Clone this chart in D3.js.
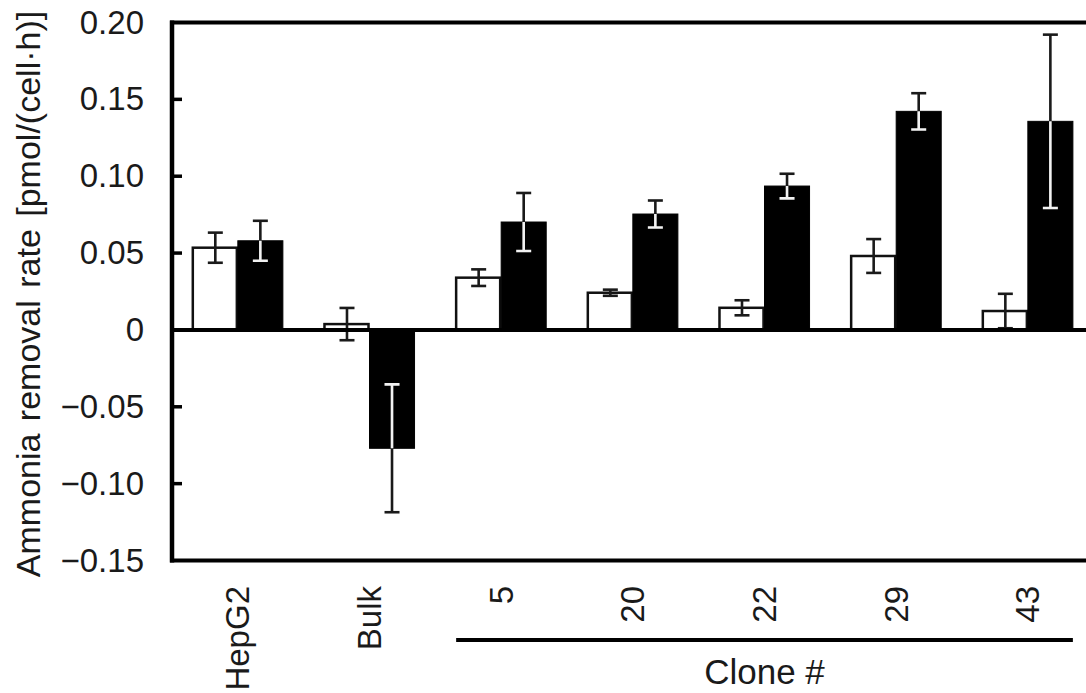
<!DOCTYPE html>
<html>
<head>
<meta charset="utf-8">
<script src="https://cdn.jsdelivr.net/npm/d3@7"></script>
<style>
html,body{margin:0;padding:0;background:#fff;}
svg{display:block;}
text{font-family:"Liberation Sans",Arial,sans-serif;fill:#1a1a1a;}
</style>
</head>
<body>
<svg id="chart" width="1086" height="693"></svg>
<script>
const categories = ["HepG2","Bulk","5","20","22","29","43"];
const whiteVals = [0.0535, 0.0038, 0.034, 0.0242, 0.0144, 0.0481, 0.0123];
const whiteErr  = [0.0098, 0.0105, 0.0054, 0.002, 0.0049, 0.011, 0.0112];
const blackVals = [0.058, -0.077, 0.0702, 0.0754, 0.0936, 0.1422, 0.1357];
const blackErr  = [0.013, 0.0416, 0.0189, 0.0088, 0.008, 0.0118, 0.0564];
const yTicks = [0.20, 0.15, 0.10, 0.05, 0, -0.05, -0.10, -0.15];
const yTickLabels = ["0.20","0.15","0.10","0.05","0","\u22120.05","\u22120.10","\u22120.15"];
const cloneCats = ["5","20","22","29","43"];
const yTitle = "Ammonia removal rate [pmol/(cell\u00b7h)]";
const groupTitle = "Clone #";

(function(){
const svg = d3.select("#chart");
const pL = 172, pT = 22.5, pB = 560.5, step = 131.67;
const x = d3.scaleBand().domain(categories)
  .range([pL, pL + step * categories.length])
  .paddingInner(0.316).paddingOuter(0.158);
const sub = d3.scaleBand().domain(["w","b"]).range([0, x.bandwidth()]);
const y = d3.scaleLinear().domain([-0.15, 0.20]).range([pB, pT]);

const rows = categories.map((c,i)=>({c, i}));

const defs = svg.append("defs");
rows.forEach(d=>{
  const v = blackVals[d.i];
  defs.append("clipPath").attr("id","clip"+d.i).append("rect")
    .attr("x", x(d.c)+sub("b"))
    .attr("y", Math.min(y(v), y(0)))
    .attr("width", sub.bandwidth())
    .attr("height", Math.abs(y(v)-y(0)));
});

svg.append("g").selectAll("rect").data(rows).join("rect")
  .attr("x", d=>x(d.c)+sub("w"))
  .attr("y", d=>Math.min(y(whiteVals[d.i]), y(0)))
  .attr("width", sub.bandwidth()-1)
  .attr("height", d=>Math.abs(y(whiteVals[d.i])-y(0)))
  .attr("fill","#fff").attr("stroke","#111").attr("stroke-width",2.5);

svg.append("g").selectAll("rect").data(rows).join("rect")
  .attr("x", d=>x(d.c)+sub("b"))
  .attr("y", d=>Math.min(y(blackVals[d.i]), y(0)))
  .attr("width", sub.bandwidth())
  .attr("height", d=>Math.abs(y(blackVals[d.i])-y(0)))
  .attr("fill","#000").attr("stroke","#000").attr("stroke-width",1);

function errBar(g, cx, v, e, color){
  const cap = 7.5;
  g.append("line").attr("x1",cx).attr("x2",cx).attr("y1",y(v+e)).attr("y2",y(v-e))
    .attr("stroke",color).attr("stroke-width",2.6);
  [v+e, v-e].forEach(t=>{
    g.append("line").attr("x1",cx-cap).attr("x2",cx+cap).attr("y1",y(t)).attr("y2",y(t))
      .attr("stroke",color).attr("stroke-width",2.6);
  });
}
const eg = svg.append("g");
rows.forEach(d=>{
  const cw = x(d.c)+sub("w")+sub.bandwidth()/2;
  errBar(eg, cw, whiteVals[d.i], whiteErr[d.i], "#1a1a1a");
  const cb = x(d.c)+sub("b")+sub.bandwidth()/2;
  errBar(eg, cb, blackVals[d.i], blackErr[d.i], "#1a1a1a");
  const wg = eg.append("g").attr("clip-path","url(#clip"+d.i+")");
  errBar(wg, cb, blackVals[d.i], blackErr[d.i], "#f2f2f2");
});

const xMax = pL + step*categories.length;
svg.append("line").attr("x1",pL-2).attr("x2",xMax).attr("y1",pT).attr("y2",pT)
  .attr("stroke","#000").attr("stroke-width",4);
svg.append("line").attr("x1",pL-2).attr("x2",xMax).attr("y1",pB).attr("y2",pB)
  .attr("stroke","#000").attr("stroke-width",4);
svg.append("line").attr("x1",pL).attr("x2",xMax).attr("y1",y(0)).attr("y2",y(0))
  .attr("stroke","#000").attr("stroke-width",4);
svg.append("line").attr("x1",pL).attr("x2",pL).attr("y1",pT-2).attr("y2",pB+2)
  .attr("stroke","#000").attr("stroke-width",4.5);

const yAxis = d3.axisLeft(y).tickValues(yTicks).tickSize(0).tickPadding(28)
  .tickFormat((d,i)=>yTickLabels[i]);
const ya = svg.append("g").attr("transform",`translate(${pL},0)`).call(yAxis);
ya.select(".domain").remove();
ya.selectAll("text").style("font-size","33px").attr("fill","#1a1a1a")
  .style("font-family","'Liberation Sans',Arial,sans-serif");
svg.append("g").selectAll("line").data(yTicks.filter(t=>t!==0 && t!==0.2 && t!==-0.15)).join("line")
  .attr("x1",pL).attr("x2",pL+10).attr("y1",d=>y(d)).attr("y2",d=>y(d))
  .attr("stroke","#000").attr("stroke-width",3.5);

svg.append("text").attr("transform",`translate(40,294) rotate(-90)`)
  .attr("text-anchor","middle").style("font-size","34px").style("word-spacing","3px").text(yTitle);

svg.append("g").selectAll("text").data(categories).join("text")
  .attr("transform", d=>`translate(${x(d)+x.bandwidth()/2},586) rotate(-90)`)
  .attr("text-anchor","end").attr("dy","0.35em").style("font-size","33px")
  .text(d=>d);

const cx0 = x(cloneCats[0]) + sub("w");
const cx1 = x(cloneCats[cloneCats.length-1]) + x.bandwidth();
svg.append("line").attr("x1",cx0).attr("x2",cx1).attr("y1",640).attr("y2",640)
  .attr("stroke","#000").attr("stroke-width",4);
svg.append("text").attr("x",(cx0+cx1)/2).attr("y",684).attr("text-anchor","middle")
  .style("font-size","35px").text(groupTitle);
})();
</script>
</body>
</html>
